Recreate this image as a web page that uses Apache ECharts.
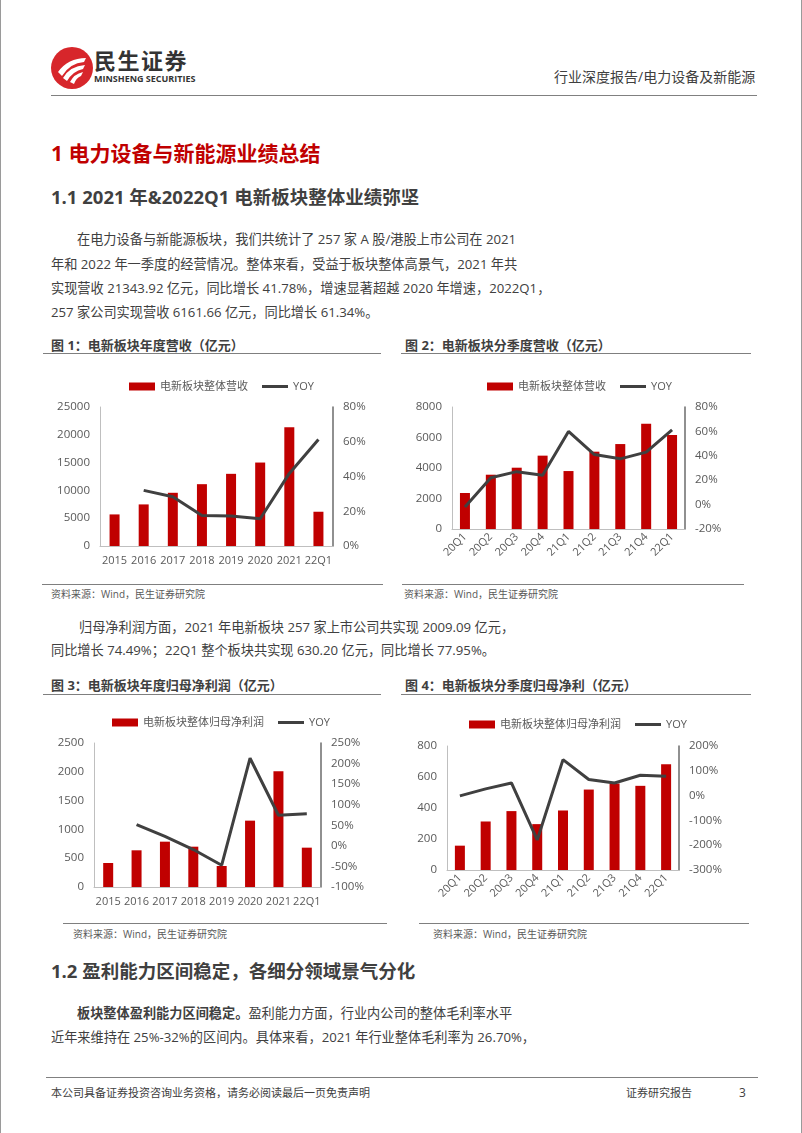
<!DOCTYPE html>
<html>
<head>
<meta charset="utf-8">
<script src="https://cdn.jsdelivr.net/npm/echarts@6/dist/echarts.min.js"></script>
<style>
  html,body{margin:0;padding:0;background:#fff;}
  #page{position:relative;width:802px;height:1133px;overflow:hidden;background:#fff;
        font-family:"Open Sans","Noto Sans CJK SC",sans-serif;color:#404040;
        box-sizing:border-box;border-left:1px solid #9a9a9a;border-right:1px solid #9a9a9a;}
  .t{position:absolute;white-space:nowrap;line-height:20px;}
  .p{font-size:13.2px;color:#404040;}
  .ft{font-size:13px;font-weight:bold;color:#404040;}
  .src{font-size:10px;color:#595959;}
  .hr{position:absolute;height:0;border-top:1px solid #7f7f7f;}
  .chart{position:absolute;}
</style>
</head>
<body>
<div id="page">
  <!-- header -->
  <svg style="position:absolute;left:49px;top:46px" width="44" height="44" viewBox="0 0 44 44">
    <circle cx="22" cy="22" r="21" fill="#d7262b"/>
    <path d="M8 26 Q18 12 36 12 L34 16 Q20 17 12 30 Z" fill="#fff"/>
    <path d="M13 32 Q20 20 35 19 L33 23 Q23 25 17 35 Z" fill="#fff"/>
    <path d="M20 36 Q24 28 33 26 L31 30 Q26 32 24 38 Z" fill="#fff"/>
  </svg>
  <div class="t" style="left:93px;top:48px;font-size:22px;font-weight:bold;color:#333;line-height:24px;letter-spacing:1.5px;">民生证券</div>
  <div class="t" style="left:93px;top:73px;font-size:9px;font-weight:bold;color:#333;line-height:12px;">MINSHENG SECURITIES</div>
  <div class="t" style="left:553px;top:67px;font-size:14px;color:#404040;">行业深度报告/电力设备及新能源</div>
  <div class="hr" style="left:50px;top:95px;width:706px;border-top:1.5px solid #808080;"></div>

  <div class="t" style="left:50px;top:141px;font-size:21px;font-weight:bold;color:#c00000;line-height:24px;">1 电力设备与新能源业绩总结</div>
  <div class="t" style="left:50px;top:186px;font-size:18.5px;font-weight:bold;color:#404040;line-height:22px;">1.1 2021 年&amp;2022Q1 电新板块整体业绩弥坚</div>

  <div class="t p" style="left:76px;top:229px;">在电力设备与新能源板块，我们共统计了 257 家 A 股/港股上市公司在 2021</div>
  <div class="t p" style="left:50px;top:254px;">年和 2022 年一季度的经营情况。整体来看，受益于板块整体高景气，2021 年共</div>
  <div class="t p" style="left:50px;top:278px;">实现营收 21343.92 亿元，同比增长 41.78%，增速显著超越 2020 年增速，2022Q1，</div>
  <div class="t p" style="left:50px;top:302px;">257 家公司实现营收 6161.66 亿元，同比增长 61.34%。</div>

  <div class="t ft" style="left:50px;top:335px;">图 1：电新板块年度营收（亿元）</div>
  <div class="hr" style="left:42px;top:353px;width:338px;"></div>
  <div class="t ft" style="left:404px;top:335px;">图 2：电新板块分季度营收（亿元）</div>
  <div class="hr" style="left:400px;top:353px;width:350px;"></div>

  <div id="c1" class="chart" style="left:40px;top:360px;width:360px;height:222px;"></div>
  <div id="c2" class="chart" style="left:400px;top:360px;width:340px;height:222px;"></div>

  <div class="hr" style="left:41px;top:584px;width:341px;"></div>
  <div class="hr" style="left:401px;top:584px;width:342px;"></div>
  <div class="t src" style="left:50px;top:584px;">资料来源：Wind，民生证券研究院</div>
  <div class="t src" style="left:403px;top:584px;">资料来源：Wind，民生证券研究院</div>

  <div class="t p" style="left:78px;top:617px;">归母净利润方面，2021 年电新板块 257 家上市公司共实现 2009.09 亿元，</div>
  <div class="t p" style="left:50px;top:640px;">同比增长 74.49%；22Q1 整个板块共实现 630.20 亿元，同比增长 77.95%。</div>

  <div class="t ft" style="left:50px;top:675px;">图 3：电新板块年度归母净利润（亿元）</div>
  <div class="hr" style="left:42px;top:694px;width:338px;"></div>
  <div class="t ft" style="left:404px;top:675px;">图 4：电新板块分季度归母净利（亿元）</div>
  <div class="hr" style="left:400px;top:694px;width:350px;"></div>

  <div id="c3" class="chart" style="left:40px;top:700px;width:360px;height:220px;"></div>
  <div id="c4" class="chart" style="left:400px;top:700px;width:340px;height:220px;"></div>

  <div class="hr" style="left:62px;top:923px;width:324px;"></div>
  <div class="hr" style="left:418px;top:923px;width:330px;"></div>
  <div class="t src" style="left:72px;top:924px;">资料来源：Wind，民生证券研究院</div>
  <div class="t src" style="left:432px;top:924px;">资料来源：Wind，民生证券研究院</div>

  <div class="t" style="left:50px;top:960px;font-size:18.5px;font-weight:bold;color:#404040;line-height:22px;">1.2 盈利能力区间稳定，各细分领域景气分化</div>
  <div class="t p" style="left:76px;top:1003px;"><b>板块整体盈利能力区间稳定。</b>盈利能力方面，行业内公司的整体毛利率水平</div>
  <div class="t p" style="left:50px;top:1027px;">近年来维持在 25%-32%的区间内。具体来看，2021 年行业整体毛利率为 26.70%，</div>

  <div class="hr" style="left:45px;top:1077px;width:712px;border-top:1.5px solid #808080;"></div>
  <div class="t" style="left:50px;top:1083px;font-size:11px;color:#404040;">本公司具备证券投资咨询业务资格，请务必阅读最后一页免责声明</div>
  <div class="t" style="left:625px;top:1083px;font-size:11px;color:#404040;">证券研究报告</div>
  <div class="t" style="left:738px;top:1083px;font-size:12px;color:#404040;">3</div>
</div>

<script>
// ---------- data ----------
const yearCats = ['2015','2016','2017','2018','2019','2020','2021','22Q1'];
const quarterCats = ['20Q1','20Q2','20Q3','20Q4','21Q1','21Q2','21Q3','21Q4','22Q1'];

const revYear = [5680, 7480, 9570, 11120, 12980, 15010, 21343.92, 6161.66];
const revYearYoy = [null, 32, 28.3, 17.6, 17.2, 15.7, 41.78, 61.34];

const revQuarter = [2360, 3560, 4020, 4810, 3800, 5070, 5570, 6900, 6161.66];
const revQuarterYoy = [-2, 22, 27, 24, 60, 41, 37.5, 43, 61.34];

const profitYear = [417, 637, 787, 700, 365, 1152, 2009.09, 683];
const profitYearYoy = [null, 51.5, 23, -9, -47, 213, 74.49, 77.95];

const profitQuarter = [157, 313, 380, 296, 384, 519, 558, 543, 682];
const profitQuarterYoy = [-1, 27, 51, -179, 145, 65, 51, 82, 77.95];

const barName1 = '电新板块整体营收';
const barName2 = '电新板块整体归母净利润';

// ---------- style ----------
const RED = '#c00000', LINE = '#404040', LBL = '#595959';
const FONT = '"Open Sans","Noto Sans CJK SC",sans-serif';

function makeOption(cfg) {
  return {
    animation: false,
    textStyle: { fontFamily: FONT },
    legend: {
      left: cfg.legendLeft, top: cfg.legendTop,
      itemWidth: 26, itemHeight: 8, itemGap: 14,
      textStyle: { fontSize: 11, color: LBL, fontFamily: FONT },
      data: [
        { name: cfg.barName, icon: 'rect' },
        { name: 'YOY', icon: 'path://M0,0L26,0L26,3L0,3Z', itemStyle: { color: LINE } }
      ]
    },
    grid: { left: cfg.grid[0], top: cfg.grid[1], width: cfg.grid[2], height: cfg.grid[3] },
    xAxis: {
      type: 'category', data: cfg.cats,
      axisLine: { lineStyle: { color: '#bfbfbf', width: 1 } },
      axisTick: { show: false },
      axisLabel: { color: LBL, fontSize: 11, margin: cfg.rotate ? 6 : 9, rotate: cfg.rotate || 0, interval: 0, fontFamily: FONT }
    },
    yAxis: [
      {
        type: 'value', min: cfg.l[0], max: cfg.l[1], interval: cfg.l[2],
        axisLine: { show: true, lineStyle: { color: '#bfbfbf', width: 1 } },
        axisTick: { show: false }, splitLine: { show: false },
        axisLabel: { color: LBL, fontSize: 11.5, margin: 10, fontFamily: FONT, formatter: v => String(v) }
      },
      {
        type: 'value', min: cfg.r[0], max: cfg.r[1], interval: cfg.r[2],
        axisLine: { show: true, lineStyle: { color: '#6b6b6b', width: 1.5 } },
        axisTick: { show: false }, splitLine: { show: false },
        axisLabel: { color: LBL, fontSize: 11.5, margin: 10, formatter: v => v + '%', fontFamily: FONT }
      }
    ],
    series: [
      { name: cfg.barName, type: 'bar', data: cfg.bars, barWidth: 10, itemStyle: { color: RED } },
      { name: 'YOY', type: 'line', yAxisIndex: 1, data: cfg.yoy, symbol: 'none',
        lineStyle: { color: LINE, width: 3 }, itemStyle: { color: LINE } }
    ]
  };
}

echarts.init(document.getElementById('c1')).setOption(makeOption({
  barName: barName1, cats: yearCats, bars: revYear, yoy: revYearYoy,
  legendLeft: 83, legendTop: 16, grid: [59, 47, 233, 139],
  l: [0, 25000, 5000], r: [0, 80, 20]
}));
echarts.init(document.getElementById('c2')).setOption(makeOption({
  barName: barName1, cats: quarterCats, bars: revQuarter, yoy: revQuarterYoy,
  legendLeft: 81, legendTop: 16, grid: [51, 47, 233, 122], rotate: 45,
  l: [0, 8000, 2000], r: [-20, 80, 20]
}));
echarts.init(document.getElementById('c3')).setOption(makeOption({
  barName: barName2, cats: yearCats, bars: profitYear, yoy: profitYearYoy,
  legendLeft: 66, legendTop: 12, grid: [53, 43, 227, 144],
  l: [0, 2500, 500], r: [-100, 250, 50]
}));
echarts.init(document.getElementById('c4')).setOption(makeOption({
  barName: barName2, cats: quarterCats, bars: profitQuarter, yoy: profitQuarterYoy,
  legendLeft: 63, legendTop: 14, grid: [46, 46, 232, 124], rotate: 45,
  l: [0, 800, 200], r: [-300, 200, 100]
}));
</script>
</body>
</html>
